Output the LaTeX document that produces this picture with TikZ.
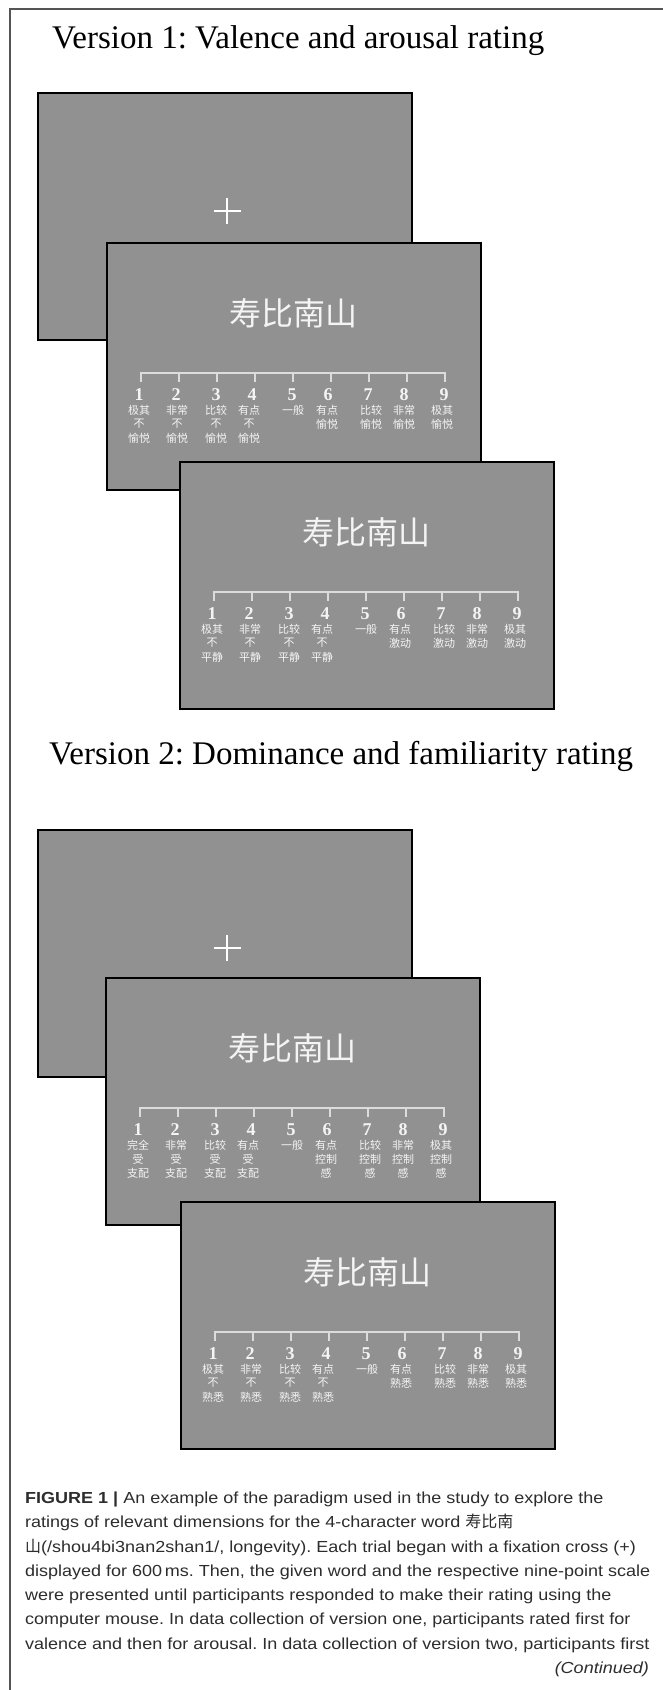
\documentclass[tikz,border=0pt]{standalone}
\usepackage{fontspec}
\newfontfamily\cjk{Noto Sans CJK SC}
\newfontfamily\serifface{Liberation Serif}
\newfontfamily\capfont[FakeStretch=1.125]{Liberation Sans}
\frenchspacing
\definecolor{screengray}{RGB}{145,145,145}
\definecolor{labwhite}{RGB}{244,244,244}
\definecolor{linegray}{RGB}{220,220,220}
\definecolor{framegray}{RGB}{85,85,85}
\definecolor{captext}{RGB}{45,45,45}
\tikzset{
  screenbox/.style={draw=black, fill=screengray, line width=1.6pt, minimum width=374pt, minimum height=247pt, inner sep=0pt, outer sep=0pt, anchor=north west},
  wordtext/.style={text=labwhite, font=\cjk\fontsize{32}{34}\selectfont, inner sep=0pt},
  numtext/.style={text=labwhite, font=\serifface\bfseries\fontsize{18}{20}\selectfont, inner sep=0pt},
  labtext/.style={text=labwhite, font=\cjk\fontsize{11}{12}\selectfont, inner sep=0pt},
  scaleline/.style={draw=linegray, line width=1.5pt},
  titletext/.style={font=\serifface\fontsize{33}{36}\selectfont, inner sep=0pt, anchor=base west},
  captext/.style={font=\capfont\fontsize{16}{20}\selectfont, text=captext, inner sep=0pt, anchor=base west},
}
\newcommand\ratingscale[4]{%
  \node[wordtext] (#3word) at (#1+186.5,#2+70) {寿比南山};
  \draw[scaleline] (#1+34,#2+139) -- (#1+34,#2+130) -- (#1+338,#2+130) -- (#1+338,#2+139);
  \foreach \k in {1,...,7} {\draw[scaleline] (#1+34+38*\k,#2+130) -- (#1+34+38*\k,#2+139);}
  \foreach \a/\b/\c [count=\n] in {#4} {
    \pgfmathsetmacro\nd{{-2,-3,-1,-3,-1,-3,-1,-3,-1}[\n-1]}
    \pgfmathsetmacro\ld{{-2,-2,-1,-6,0,-4,2,-3,-3}[\n-1]}
    \node[numtext] (#3num\n) at (#1+34+38*\n-38+\nd,#2+152) {\n};
    \node[labtext] (#3la\n) at (#1+34+38*\n-38+\ld,#2+167) {\a};
    \ifx\b\empty\else \node[labtext] (#3lb\n) at (#1+34+38*\n-38+\ld,#2+181) {\b};\fi
    \ifx\c\empty\else \node[labtext] (#3lc\n) at (#1+34+38*\n-38+\ld,#2+195) {\c};\fi
  }
}
\begin{document}
\begin{tikzpicture}[x=1pt,y=-1pt]
\useasboundingbox (0,0) rectangle (663,1690);
\fill[white] (0,0) rectangle (663,1690);
\draw[framegray, line width=1.2pt] (10,1690) -- (10,9) -- (663,9);

% Version 1
\node[titletext] (title1) at (52,48) {Version 1: Valence and arousal rating};
\node[screenbox] (v1s1) at (38,93) {};
\draw[white, line width=2.2pt] (213.5,211) -- (240.5,211) (227,198) -- (227,224);
\node[screenbox] (v1s2) at (107,243) {};
\ratingscale{107}{243}{vas}{极其/不/愉悦, 非常/不/愉悦, 比较/不/愉悦, 有点/不/愉悦, 一般//, 有点/愉悦/, 比较/愉悦/, 非常/愉悦/, 极其/愉悦/}
\node[screenbox] (v1s3) at (180,462) {};
\ratingscale{180}{462}{ars}{极其/不/平静, 非常/不/平静, 比较/不/平静, 有点/不/平静, 一般//, 有点/激动/, 比较/激动/, 非常/激动/, 极其/激动/}

% Version 2
\node[titletext] (title2) at (49,764) {Version 2: Dominance and familiarity rating};
\node[screenbox] (v2s1) at (38,830) {};
\draw[white, line width=2.2pt] (213.5,948) -- (240.5,948) (227,935) -- (227,961);
\node[screenbox] (v2s2) at (106,978) {};
\ratingscale{106}{978}{dom}{完全/受/支配, 非常/受/支配, 比较/受/支配, 有点/受/支配, 一般//, 有点/控制/感, 比较/控制/感, 非常/控制/感, 极其/控制/感}
\node[screenbox] (v2s3) at (181,1202) {};
\ratingscale{181}{1202}{fam}{极其/不/熟悉, 非常/不/熟悉, 比较/不/熟悉, 有点/不/熟悉, 一般//, 有点/熟悉/, 比较/熟悉/, 非常/熟悉/, 极其/熟悉/}

% Caption
\node[captext] (cap1) at (25,1503) {\textbf{FIGURE 1 |} An example of the paradigm used in the study to explore the};
\node[captext] (cap2) at (25,1527) {ratings of relevant dimensions for the 4-character word {\cjk 寿比南}};
\node[captext] (cap3) at (25,1552) {{\cjk 山}(/shou4bi3nan2shan1/, longevity). Each trial began with a fixation cross (+)};
\node[captext] (cap4) at (25,1576) {displayed for 600\,ms. Then, the given word and the respective nine-point scale};
\node[captext] (cap5) at (25,1600) {were presented until participants responded to make their rating using the};
\node[captext] (cap6) at (25,1624) {computer mouse. In data collection of version one, participants rated first for};
\node[captext] (cap7) at (25,1649) {valence and then for arousal. In data collection of version two, participants first};
\node[captext, anchor=base east] (cap8) at (649,1673) {\itshape (Continued)};
\end{tikzpicture}
\end{document}
